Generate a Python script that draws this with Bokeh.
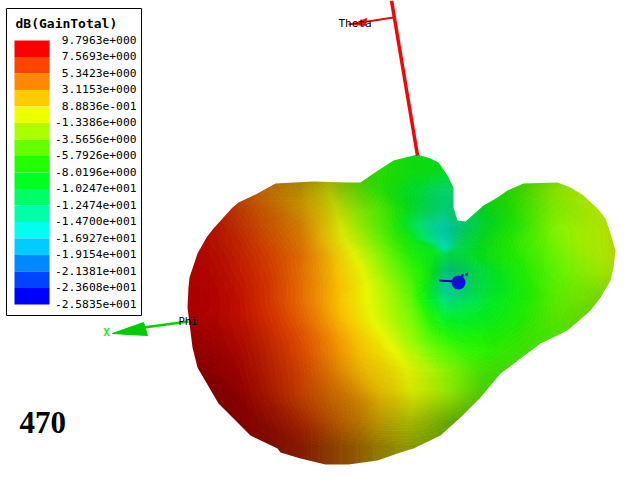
import numpy as np
from bokeh.plotting import figure
from bokeh.models import Range1d
from bokeh.core.properties import value
from bokeh.embed import file_html
from bokeh.resources import INLINE

legend_title = "dB(GainTotal)"
legend_labels = ["9.7963e+000","7.5693e+000","5.3423e+000","3.1153e+000","8.8836e-001","-1.3386e+000",
                 "-3.5656e+000","-5.7926e+000","-8.0196e+000","-1.0247e+001","-1.2474e+001","-1.4700e+001",
                 "-1.6927e+001","-1.9154e+001","-2.1381e+001","-2.3608e+001","-2.5835e+001"]
legend_values = [9.7963,7.5693,5.3423,3.1153,0.88836,-1.3386,-3.5656,-5.7926,-8.0196,-10.247,-12.474,-14.700,
                 -16.927,-19.154,-21.381,-23.608,-25.835]
legend_colors = ["#ff0000","#ff4400","#ff8800","#ffcc00","#eeff00","#aaff00","#66ff00","#22ff00",
                 "#00ff22","#00ff66","#00ffaa","#00ffee","#00ccff","#0088ff","#0044ff","#0000ff"]
frame_label = "470"

# surface gain (dB)
gain_x = [180,210,240,270,300,330,360,390,410,430,445,460,475,490,520,550,580,610,630]
gain_y = [150,170,190,210,225,240,247,255,270,285,300,320,340,370,400,430,460,480]
gain_z = [
 [8,7,6,5,3,1,-5,-7,-8,-8.5,-9,-9,-8,-7,-6,-3.5,-2,-1,-1],
 [8,7,6,5,3,0.5,-5,-7,-8,-8.5,-9,-9,-8,-7,-6,-3.5,-2,-1,-1],
 [9,7.5,6,4.5,3,0,-4.5,-7.5,-9.5,-11.5,-12.5,-11,-9,-7.5,-5.5,-3,-1.5,-1,-1],
 [9.5,8.5,7,5.5,3.5,1,-3,-6,-9.5,-12,-13,-13,-10.5,-8.5,-6,-3.5,-2,-1,-1],
 [9.5,9,7.5,6,4.5,1.5,-2.5,-6,-10.5,-14,-15.5,-13,-11,-9,-6.5,-3.5,-2,-1,-0.5],
 [9.5,9,8,6.5,5,2,-1.5,-5.5,-8,-13,-15.5,-11.5,-10,-8,-6,-4,-2,-1,-1],
 [9.5,9.1,8.1,6.8,5.2,2.5,-1,-5,-7.5,-9,-16,-11,-9.5,-8,-6.2,-4.2,-2.2,-1,-1],
 [9.5,9.3,8.3,7,5.5,3,-0.5,-4.5,-7,-8.5,-11,-10.5,-9,-8,-6.5,-4.5,-2.5,-1,-1],
 [9.7,9.5,8.5,7.3,5.5,3.2,0.5,-3.5,-6,-8,-13.5,-12,-11,-9.5,-7,-5,-3,-1.5,-1.5],
 [9.8,9.7,8.8,7.5,5.7,3.5,1,-2.5,-5,-9.5,-15,-14,-11,-10,-7.5,-5,-3.5,-2,-2],
 [9.8,9.8,9,7.5,5.7,3.5,1,-2,-4.5,-9.5,-13,-12,-11,-9.5,-7.5,-5,-3.5,-3,-3],
 [9.8,9.7,9,7.8,6.2,4,1.5,-1.5,-3.5,-7,-9,-9.5,-9,-8.5,-7,-5,-4,-4,-4],
 [9.8,9.8,9.2,8,6.8,4.8,2.5,0,-2.5,-5,-6,-7,-7,-7,-6,-5,-4,-4,-4],
 [9.8,9.8,9.5,8.2,7,5,3,1.5,0,-1.5,-3,-4,-5,-5.5,-5,-5,-4,-4,-4],
 [9.8,9.8,9.8,8.5,7,5.5,4,2,0.5,-1,-2,-3,-4,-5,-5,-5,-4,-4,-4],
 [9.8,9.8,9.8,9,8,6,4,1.5,0,-1.5,-2.5,-3.5,-4.5,-5,-5,-5,-4,-4,-4],
 [9.8,9.8,9.8,9,8,6,4,1.5,0,-1.5,-2.5,-3.5,-4.5,-5,-5,-5,-4,-4,-4],
 [9.8,9.8,9.8,9,8,6,4,1.5,0,-1.5,-2.5,-3.5,-4.5,-5,-5,-5,-4,-4,-4],
]

# surface shading (fraction of black)
shade_x = [180,220,260,300,340,380,420,435,450,465,480,520,560,600,630]
shade_y = [150,180,200,230,250,270,290,310,350,390,420,445,480]
shade_z = [
 [.3,.3,.3,.35,.3,.15,.15,.15,.15,.18,.2,.2,.15,.15,.2],
 [.3,.3,.3,.35,.3,.15,.15,.15,.15,.18,.2,.2,.15,.15,.2],
 [.3,.3,.25,.25,.2,.12,.18,.2,.2,.2,.2,.15,.1,.12,.2],
 [.35,.3,.22,.18,.1,.08,.12,.2,.25,.22,.18,.1,.05,.1,.2],
 [.35,.3,.2,.15,.07,.05,.08,.1,.15,.15,.15,.08,.05,.1,.2],
 [.35,.3,.2,.12,.05,.04,.05,.18,.28,.22,.15,.08,.05,.1,.2],
 [.35,.3,.2,.1,.04,.03,.05,.14,.22,.2,.14,.08,.07,.15,.2],
 [.35,.3,.2,.1,.03,.03,.02,.05,.08,.08,.08,.08,.1,.2,.25],
 [.45,.4,.3,.15,.06,.04,.02,.02,.02,.03,.05,.12,.15,.2,.25],
 [.5,.5,.38,.25,.2,.12,.1,.1,.1,.15,.2,.2,.2,.2,.2],
 [.5,.5,.48,.38,.3,.28,.3,.32,.35,.35,.35,.2,.2,.2,.2],
 [.5,.5,.5,.48,.45,.42,.4,.4,.4,.38,.35,.2,.2,.2,.2],
 [.5,.5,.5,.48,.45,.42,.4,.4,.4,.38,.35,.2,.2,.2,.2],
]

# silhouette of the pattern
outline_x = [187,188,189,197,206,213,231,238,257,275,293,313,347,360,373,393,417,430,438,447,453,453,457,465,483,497,507,523,557,570,583,597,605,610,615,613,610,600,590,567,540,520,500,490,480,460,440,413,400,377,348,325,300,280,277,250,240,218,197,192,187]
outline_y = [307,287,277,253,237,228,208,202,193,183,182,181,182,182,173,160,154,158,162,175,187,207,220,221,205,197,190,183,182,187,195,208,218,233,250,267,280,297,310,330,343,358,373,385,397,417,435,448,452,460,464,464,458,452,448,435,425,403,367,347,307]

p = figure(width=640, height=488, output_backend="svg", toolbar_location=None,
           x_range=Range1d(0, 640), y_range=Range1d(488, 0), min_border=0)
p.xaxis.visible = False
p.yaxis.visible = False
p.grid.visible = False
p.outline_line_color = None
p.background_fill_color = "white"
p.border_fill_color = "white"

def hex2rgb(h):
    return [int(h[i:i+2], 16) for i in (1, 3, 5)]

stop_rgb = np.array([hex2rgb(c) for c in legend_colors])

def gain_color(v):
    pos = np.linspace(legend_values[0], legend_values[-1], len(legend_colors))
    return "#%02x%02x%02x" % tuple(int(round(np.interp(v, pos[::-1], stop_rgb[::-1, k]))) for k in range(3))

levels = np.arange(-26.0, 10.3, 0.25)
mids = (levels[:-1] + levels[1:]) / 2
p.contour(np.array(gain_x, float), np.array(gain_y, float), np.array(gain_z, float), levels,
          fill_color=[gain_color(m) for m in mids],
          line_color=[gain_color(m) for m in levels], line_width=1)

shade_levels = np.arange(0.0, 0.54, 0.0125)
shade_mids = (shade_levels[:-1] + shade_levels[1:]) / 2
p.contour(np.array(shade_x, float), np.array(shade_y, float), np.array(shade_z, float), shade_levels,
          fill_color="black", fill_alpha=list(shade_mids), line_color=None)

# white mask around the silhouette
p.multi_polygons(xs=[[[[170, 640, 640, 170], outline_x]]],
                 ys=[[[[140, 140, 488, 488], outline_y]]],
                 fill_color="white", line_color=None)

# Theta axis
p.line([391, 417], [0, 155], line_color="#f00808", line_width=3.5)
p.line([393, 348], [17, 24], line_color="#e01010", line_width=2)
p.patch([352, 366, 365], [24, 18, 25], fill_color="#e01010", line_color="#e01010")
p.text([338], [23], text=["Theta"], text_font=value("DejaVu Sans Mono"), text_font_size="11px",
       text_baseline="middle", text_color="black")

# X axis arrow
p.line([188, 143], [321, 327], line_color="#00d000", line_width=2.5)
p.patch([112, 143, 147], [333, 322, 335], fill_color="#00cc00", line_color="#00cc00")
p.text([106], [332], text=["X"], text_font=value("DejaVu Sans Mono"), text_font_size="11px",
       text_font_style="bold", text_align="center", text_baseline="middle", text_color="#22ee22")
p.text([178], [320], text=["Phi"], text_font=value("DejaVu Sans Mono"), text_font_size="10.5px",
       text_baseline="middle", text_color="black")

# Z axis tip
p.line([439, 455], [280, 281], line_color="#000099", line_width=2)
p.scatter([458], [282], size=14, fill_color="#1010d8", line_color=None)
p.scatter([462, 466], [275, 274], size=2.5, marker="square", fill_color="#1010d8", line_color=None)

# legend
p.quad(left=[6], right=[141], top=[8], bottom=[315], fill_color="white", line_color="black", line_width=1)
n = len(legend_colors)
ytop = 40.0
step = 264.0 / n
p.quad(left=[14] * n, right=[49] * n, top=[ytop + i * step for i in range(n)],
       bottom=[ytop + (i + 1) * step for i in range(n)], fill_color=legend_colors, line_color=None)
p.text([15], [22.5], text=[legend_title], text_font=value("DejaVu Sans Mono"), text_font_size="13px",
       text_font_style="bold", text_baseline="middle", text_color="black")
p.text([136] * len(legend_labels), [ytop - 1 + i * step for i in range(len(legend_labels))], text=legend_labels,
       text_font=value("DejaVu Sans Mono"), text_font_size="11.3px", text_align="right",
       text_baseline="middle", text_color="black")

p.text([19], [422], text=[frame_label], text_font=value("Liberation Serif"), text_font_size="31px",
       text_font_style="bold", text_baseline="middle", text_color="black")

open("out.html", "w").write(file_html(p, INLINE))
